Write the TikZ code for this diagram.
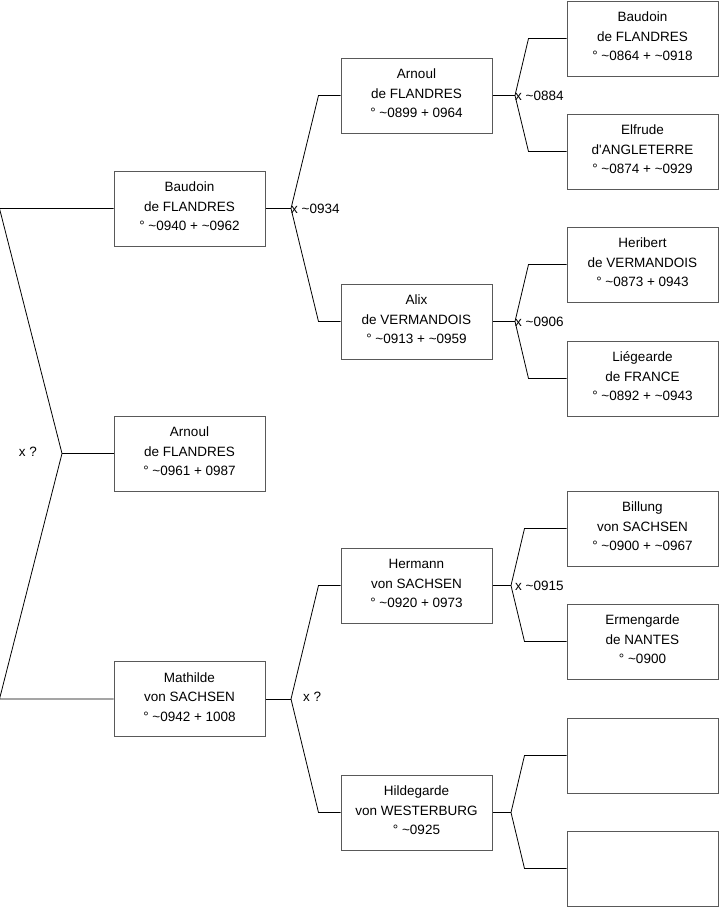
\documentclass[tikz,border=0pt]{standalone}
\usepackage{fontspec}
\setmainfont{Liberation Sans}
\usepackage{tikz}
\usetikzlibrary{positioning}

\newcommand{\ca}{\textasciitilde}

\begin{document}
\begin{tikzpicture}[x=1pt, y=-1pt,
  person/.style={rectangle, draw=black!65, line width=1pt, fill=white,
    minimum width=151pt, minimum height=75pt, inner sep=0pt, align=center,
    font=\fontsize{13.5}{19.5}\selectfont, text depth=4pt},
  link/.style={draw=black, line width=0.8pt},
  wed/.style={inner sep=0pt, font=\fontsize{13.5}{16}\selectfont}
]
\useasboundingbox (0,0) rectangle (719,908);
% generation 1
\node[person] (baudoinA) at (189.5,208.5) {Baudoin\\de FLANDRES\\° \ca0940 + \ca0962};
\node[person] (arnoulA) at (189.5,453.5) {Arnoul\\de FLANDRES\\° \ca0961 + 0987};
\node[person] (mathilde) at (189.5,699) {Mathilde\\von SACHSEN\\° \ca0942 + 1008};
% generation 2
\node[person] (arnoulB) at (416.5,95.5) {Arnoul\\de FLANDRES\\° \ca0899 + 0964};
\node[person] (alix) at (416.5,321.5) {Alix\\de VERMANDOIS\\° \ca0913 + \ca0959};
\node[person] (hermann) at (416.5,585.5) {Hermann\\von SACHSEN\\° \ca0920 + 0973};
\node[person] (hildegarde) at (416.5,812.5) {Hildegarde\\von WESTERBURG\\° \ca0925};
% generation 3
\node[person] (baudoinC) at (642.5,38.5) {Baudoin\\de FLANDRES\\° \ca0864 + \ca0918};
\node[person] (elfrude) at (642.5,151.5) {Elfrude\\d\textquotesingle ANGLETERRE\\° \ca0874 + \ca0929};
\node[person] (heribert) at (642.5,264.5) {Heribert\\de VERMANDOIS\\° \ca0873 + 0943};
\node[person] (liegearde) at (642.5,378.5) {Liégearde\\de FRANCE\\° \ca0892 + \ca0943};
\node[person] (billung) at (642.5,528.5) {Billung\\von SACHSEN\\° \ca0900 + \ca0967};
\node[person] (ermengarde) at (642.5,641.5) {Ermengarde\\de NANTES\\° \ca0900};
\node[person] (emptyA) at (642.5,755.5) {};
\node[person] (emptyB) at (642.5,868.5) {};

% marriage points
\coordinate (root) at (62,453.5);
\coordinate (mA) at (291,208.5);
\coordinate (mB) at (291,699);
\coordinate (mC) at (515,95.5);
\coordinate (mD) at (515,321.5);
\coordinate (mE) at (511,585.5);
\coordinate (mF) at (511,812.5);

\draw[link] (arnoulA.west) -- (root);
\draw[link] (root) -- ([xshift=-114pt]baudoinA.west) -- (baudoinA.west);
\draw[link] (root) -- ([xshift=-114pt]mathilde.west) -- (mathilde.west);
\node[wed, anchor=east] (wedRoot) at (37,451.5) {x ?};

\draw[link] (baudoinA.east) -- (mA);
\draw[link] (mA) -- ([xshift=-22pt]arnoulB.west) -- (arnoulB.west);
\draw[link] (mA) -- ([xshift=-22pt]alix.west) -- (alix.west);
\node[wed, anchor=west] (wedA) at (mA) {x \ca0934};

\draw[link] (mathilde.east) -- (mB);
\draw[link] (mB) -- ([xshift=-22pt]hermann.west) -- (hermann.west);
\draw[link] (mB) -- ([xshift=-22pt]hildegarde.west) -- (hildegarde.west);
\node[wed, anchor=west] (wedB) at (303,697) {x ?};

\draw[link] (arnoulB.east) -- (mC);
\draw[link] (mC) -- ([xshift=-38pt]baudoinC.west) -- (baudoinC.west);
\draw[link] (mC) -- ([xshift=-38pt]elfrude.west) -- (elfrude.west);
\node[wed, anchor=west] (wedC) at (mC) {x \ca0884};

\draw[link] (alix.east) -- (mD);
\draw[link] (mD) -- ([xshift=-38pt]heribert.west) -- (heribert.west);
\draw[link] (mD) -- ([xshift=-38pt]liegearde.west) -- (liegearde.west);
\node[wed, anchor=west] (wedD) at (mD) {x \ca0906};

\draw[link] (hermann.east) -- (mE);
\draw[link] (mE) -- ([xshift=-42pt]billung.west) -- (billung.west);
\draw[link] (mE) -- ([xshift=-42pt]ermengarde.west) -- (ermengarde.west);
\node[wed, anchor=west] (wedE) at ([xshift=4pt]mE) {x \ca0915};

\draw[link] (hildegarde.east) -- (mF);
\draw[link] (mF) -- ([xshift=-42pt]emptyA.west) -- (emptyA.west);
\draw[link] (mF) -- ([xshift=-42pt]emptyB.west) -- (emptyB.west);
\end{tikzpicture}
\end{document}
